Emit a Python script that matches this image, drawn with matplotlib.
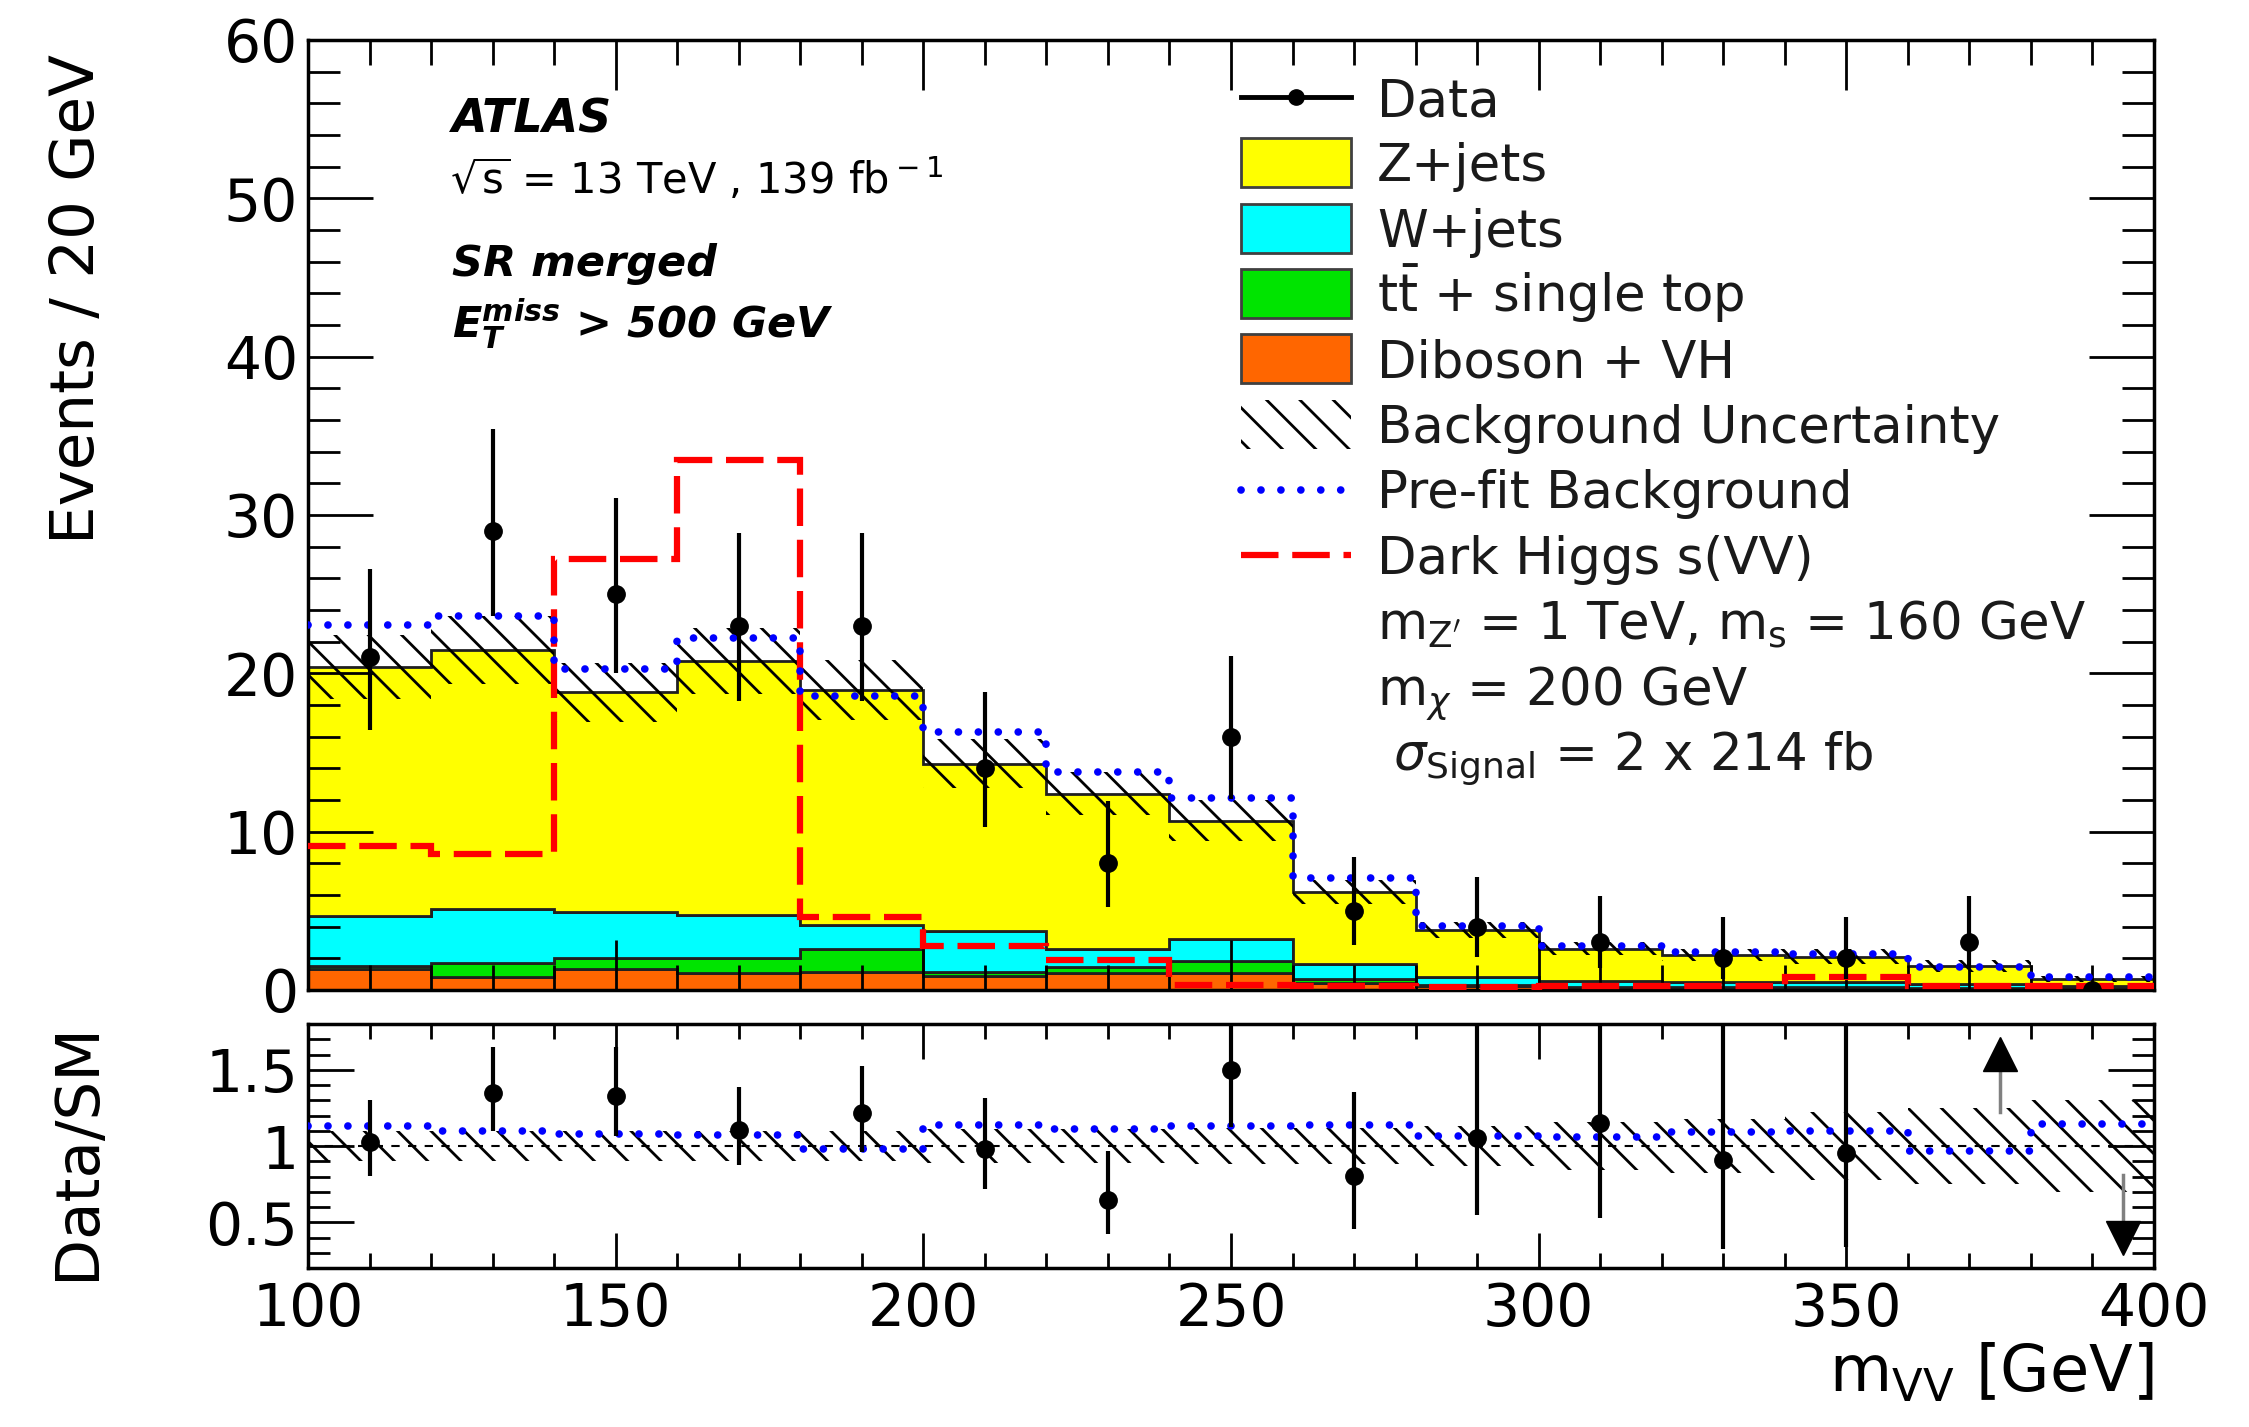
import matplotlib
matplotlib.use("Agg")
import matplotlib.pyplot as plt
import numpy as np
from matplotlib.patches import Rectangle
from matplotlib.ticker import MultipleLocator, FixedLocator, FuncFormatter

plt.rcParams["font.family"] = ["DejaVu Sans"]
plt.rcParams["mathtext.fontset"] = "dejavusans"
plt.rcParams["hatch.linewidth"] = 2.0

# m_VV binning (20 GeV bins)
edges = np.array([100, 120, 140, 160, 180, 200, 220, 240, 260, 280, 300, 320, 340, 360, 380, 400])
centers = 0.5 * (edges[1:] + edges[:-1])

# post-fit backgrounds, events / 20 GeV
diboson = np.array([1.3, 0.85, 1.35, 1.05, 1.15, 0.9, 1.05, 1.05, 0.45, 0.25, 0.15, 0.15, 0.15, 0.12, 0.08])
ttbar = np.array([0.2, 0.85, 0.65, 0.95, 1.45, 0.25, 0.4, 0.75, 0.25, 0.07, 0.05, 0.05, 0.05, 0.03, 0.02])
wjets = np.array([3.2, 3.4, 2.95, 2.75, 1.5, 2.55, 1.15, 1.45, 0.95, 0.5, 0.35, 0.3, 0.3, 0.2, 0.15])
zjets = np.array([15.7, 16.4, 13.85, 16.05, 14.85, 10.6, 9.8, 7.45, 4.55, 2.98, 2.05, 1.7, 1.6, 1.15, 0.45])
rel_unc = np.array([0.10, 0.10, 0.10, 0.10, 0.10, 0.11, 0.11, 0.12, 0.12, 0.13, 0.16, 0.18, 0.22, 0.25, 0.30])
prefit = np.array([23.05, 23.65, 20.3, 22.25, 18.55, 16.3, 13.75, 12.1, 7.05, 4.05, 2.75, 2.4, 2.3, 1.45, 0.8])
signal = np.array([9.1, 8.6, 27.2, 33.5, 4.6, 2.8, 1.9, 0.3, 0.25, 0.2, 0.25, 0.25, 0.8, 0.25, 0.25])

data = np.array([21, 29, 25, 23, 23, 14, 8, 16, 5, 4, 3, 2, 2, 3, 0])
err_lo = np.array([4.55, 5.35, 4.97, 4.77, 4.77, 3.7, 2.78, 3.96, 2.16, 1.91, 1.63, 1.29, 1.29, 1.63, 0.0])
err_hi = np.array([5.62, 6.43, 6.06, 5.86, 5.86, 4.83, 3.96, 5.10, 3.38, 3.16, 2.92, 2.64, 2.64, 2.92, 0.0])

colors = {"Z+jets": "#ffff00", "W+jets": "#00ffff", "ttbar": "#00e400", "Diboson": "#ff6600"}
dotted = (0, (0.01, 2.6))
dashed = (0, (6, 2.2))

fig = plt.figure(figsize=(22.49, 14.27), dpi=100)
ax = fig.add_axes([0.13695, 0.30624, 0.82081, 0.66573])
rax = fig.add_axes([0.13695, 0.11142, 0.82081, 0.17099])

# stacked backgrounds
bottom = np.zeros_like(diboson)
for vals, key in [(diboson, "Diboson"), (ttbar, "ttbar"), (wjets, "W+jets"), (zjets, "Z+jets")]:
    ax.stairs(bottom + vals, edges, baseline=bottom.copy(), fill=True,
              facecolor=colors[key], edgecolor="#202020", linewidth=2, zorder=1)
    bottom = bottom + vals
total = bottom

ax.stairs(total * (1 + rel_unc), edges, baseline=total * (1 - rel_unc), fill=True,
          facecolor="none", edgecolor="black", linewidth=0, hatch="\\", zorder=2)
ax.stairs(signal, edges, baseline=None, color="red", linewidth=4.5,
          linestyle=dashed, zorder=3)
ax.stairs(prefit, edges, baseline=None, color="blue", linewidth=5.5,
          linestyle=dotted, capstyle="round", zorder=3)
ax.errorbar(centers, data, yerr=[err_lo, err_hi], fmt="o", color="black",
            markersize=12.5, elinewidth=3, capsize=0, zorder=5)

ax.set_xlim(100, 400)
ax.set_ylim(0, 60)
ax.xaxis.set_major_locator(MultipleLocator(50))
ax.xaxis.set_minor_locator(MultipleLocator(10))
ax.yaxis.set_major_locator(MultipleLocator(10))
ax.yaxis.set_minor_locator(MultipleLocator(2))
ax.tick_params(which="both", direction="in", top=True, right=True, labelbottom=False,
               width=2, labelsize=42, pad=7)
ax.tick_params(axis="y", which="major", length=47)
ax.tick_params(axis="y", which="minor", length=23)
ax.tick_params(axis="x", which="major", length=36)
ax.tick_params(axis="x", which="minor", length=18)
ax.set_ylabel("Events / 20 GeV", fontsize=44, loc="top")
ax.yaxis.set_label_coords(-0.109, 0.985)

# ATLAS labels
ax.text(0.078, 0.903, "ATLAS", transform=ax.transAxes, fontsize=33,
        fontweight="bold", style="italic")
ax.text(0.077, 0.838, r"$\sqrt{\rm s}$ = 13 TeV , 139 fb$^{\rm -1}$",
        transform=ax.transAxes, fontsize=30)
ax.text(0.078, 0.752, "SR merged", transform=ax.transAxes, fontsize=31,
        fontweight="bold", style="italic")
ax.text(0.078, 0.687, r"$\mathbfit{E}_{\mathbfit{T}}^{\mathbfit{miss}}$ > 500 GeV",
        transform=ax.transAxes, fontsize=31, fontweight="bold", style="italic")

# legend, drawn row by row
entries = [
    ("Data", "data", None),
    ("Z+jets", "fill", colors["Z+jets"]),
    ("W+jets", "fill", colors["W+jets"]),
    (r"t$\bar{\rm t}$ + single top", "fill", colors["ttbar"]),
    ("Diboson + VH", "fill", colors["Diboson"]),
    ("Background Uncertainty", "hatch", None),
    ("Pre-fit Background", "prefit", None),
    ("Dark Higgs s(VV)", "signal", None),
    (r"m$_{\rm Z'}$ = 1 TeV, m$_{\rm s}$ = 160 GeV", None, None),
    (r"m$_{\chi}$ = 200 GeV", None, None),
    (r" $\sigma_{\rm Signal}$ = 2 x 214 fb", None, None),
]
hx0, hx1, tx = 0.5052, 0.565, 0.579
y0, dy, bh = 0.9395, 0.0688, 0.0516
for i, (label, kind, col) in enumerate(entries):
    yc = y0 - i * dy
    if kind == "data":
        ax.plot([hx0, hx1], [yc, yc], transform=ax.transAxes, color="black", lw=3.5)
        ax.plot([(hx0 + hx1) / 2], [yc], transform=ax.transAxes, marker="o",
                color="black", markersize=11)
    elif kind == "fill":
        ax.add_patch(Rectangle((hx0, yc - bh / 2), hx1 - hx0, bh, transform=ax.transAxes,
                               facecolor=col, edgecolor="#404040", linewidth=2))
    elif kind == "hatch":
        ax.add_patch(Rectangle((hx0, yc - bh / 2), hx1 - hx0, bh, transform=ax.transAxes,
                               facecolor="none", edgecolor="black", linewidth=0, hatch="\\"))
    elif kind == "prefit":
        ax.plot([hx0, hx1], [yc, yc], transform=ax.transAxes, color="blue", lw=5.5,
                linestyle=dotted, dash_capstyle="round")
    elif kind == "signal":
        ax.plot([hx0, hx1], [yc, yc], transform=ax.transAxes, color="red", lw=4.5,
                linestyle=dashed)
    ax.text(tx, yc - 0.0196, label, transform=ax.transAxes, fontsize=37,
            va="baseline", color="#1a1a1a")

# ratio panel
ratio = data / total
ratio_lo = err_lo / total
ratio_hi = err_hi / total
rmin, rmax = 0.2, 1.8
inside = (ratio > rmin) & (ratio < rmax)

rax.stairs(1 + rel_unc, edges, baseline=1 - rel_unc, fill=True, facecolor="none",
           edgecolor="black", linewidth=0, hatch="\\", zorder=2)
rax.axhline(1.0, color="black", lw=1.5, linestyle=(0, (4, 4)), zorder=2)
rax.stairs(prefit / total, edges, baseline=None, color="blue", linewidth=5.5,
           linestyle=dotted, capstyle="round", zorder=3)
rax.errorbar(centers[inside], ratio[inside], yerr=[ratio_lo[inside], ratio_hi[inside]],
             fmt="o", color="black", markersize=12.5, elinewidth=3, capsize=0, zorder=5)

# out-of-range markers
arrow_shift = 5
for x, r in zip(centers, ratio):
    if r >= rmax:
        rax.plot([x + arrow_shift] * 2, [1.22, 1.52], color="gray", lw=2.5, zorder=5)
        rax.plot(x + arrow_shift, 1.605, marker="^", markersize=25, color="black", zorder=6)
    elif r <= rmin:
        rax.plot([x + arrow_shift] * 2, [0.81, 0.48], color="gray", lw=2.5, zorder=5)
        rax.plot(x + arrow_shift, 0.395, marker="v", markersize=25, color="black", zorder=6)

rax.set_xlim(100, 400)
rax.set_ylim(rmin, rmax)
rax.xaxis.set_major_locator(MultipleLocator(50))
rax.xaxis.set_minor_locator(MultipleLocator(10))
rax.yaxis.set_major_locator(FixedLocator([0.5, 1.0, 1.5]))
rax.yaxis.set_minor_locator(MultipleLocator(0.1))
rax.yaxis.set_major_formatter(FuncFormatter(lambda v, p: "%g" % v))
rax.tick_params(which="both", direction="in", top=True, right=True, width=2, labelsize=42)
rax.tick_params(axis="y", which="major", length=33, pad=7)
rax.tick_params(axis="y", which="minor", length=16)
rax.tick_params(axis="x", which="major", length=25, pad=9)
rax.tick_params(axis="x", which="minor", length=11)
rax.set_ylabel("Data/SM", fontsize=44, loc="top")
rax.yaxis.set_label_coords(-0.109, 1.01)
rax.set_xlabel(r"m$_{\rm VV}$ [GeV]", fontsize=46, loc="right")
rax.xaxis.set_label_coords(1.0, -0.30)

for a in (ax, rax):
    for s in a.spines.values():
        s.set_linewidth(2.5)

fig.savefig("out.png", dpi=100)
